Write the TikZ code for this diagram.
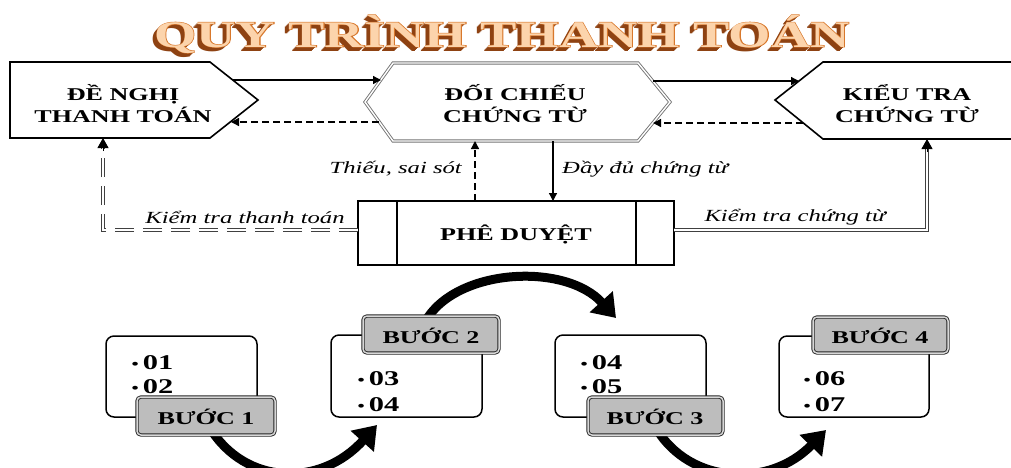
\documentclass[tikz,border=0pt]{standalone}
\usepackage{fontspec}
\setmainfont[FakeStretch=1.45]{Liberation Serif}
\newfontfamily\titleol[FakeStretch=1.45,FakeBold=2.5]{Liberation Serif}
\usetikzlibrary{arrows.meta}
\definecolor{tbrown}{HTML}{8E4212}
\definecolor{torange}{HTML}{D8782C}
\definecolor{tpeach}{HTML}{FCD4AC}
\definecolor{lblgray}{HTML}{BDBDBD}
\newcommand{\ttl}{QUY TRÌNH THANH TOÁN}
\newcommand{\shadowcopy}[1]{\rlap{\kern-#1pt\raisebox{-#1pt}{\color{tbrown}\ttl}}}
\begin{document}
\begin{tikzpicture}[x=1pt,y=-1pt,
  boxline/.style={line width=1.6pt},
  boxtext/.style={font=\fontsize{18}{22}\selectfont\bfseries, align=center, inner sep=0pt},
  lbl/.style={font=\fontsize{17}{20}\selectfont\itshape, inner sep=1pt},
  conn/.style={line width=1.3pt,-{Triangle[length=8pt,width=8pt]}},
  dconn/.style={conn,dash pattern=on 7pt off 4pt},
  dbl/.style={draw=black!75, double=white, line width=0.9pt, double distance=1.6pt},
  dbldash/.style={dbl, dash pattern=on 19pt off 9pt},
  tip/.style={line width=1pt,-{Triangle[length=10pt,width=11pt]}},
  stepbox/.style={draw, line width=1.5pt, rounded corners=8pt},
  steplbl/.style={draw=black!85, double=lblgray!60, line width=0.9pt, double distance=1.5pt, fill=lblgray, rounded corners=4pt},
  steptext/.style={font=\fontsize{18}{20}\selectfont\bfseries, inner sep=0pt},
  item/.style={font=\fontsize{21}{24}\selectfont\bfseries, inner sep=0pt, anchor=base west},
  bigarrow/.style={line width=9pt, -{Triangle[length=22pt,width=30pt]}},
  titletext/.style={font=\fontsize{37.5}{40}\selectfont\bfseries, inner sep=0pt, anchor=base}
]
\useasboundingbox (0,0) rectangle (1011,467);
\clip (0,0) rectangle (1011,467);

% ---------- title ----------
\node[titletext] (title) at (502,47) {\shadowcopy{4}\shadowcopy{3}\shadowcopy{2}\shadowcopy{1}\rlap{\color{torange}\titleol\ttl}{\color{tpeach}\ttl}};

% ---------- top shapes ----------
\draw[boxline] (10,62) -- (210,62) -- (258,100) -- (210,138) -- (10,138) -- cycle;
\node[boxtext] (dn) at (123,104) {ĐỀ NGHỊ\\THANH TOÁN};

\draw[draw=black!55, double=white, line width=0.9pt, double distance=1.4pt]
  (393,63) -- (638,63) -- (670,102) -- (638,141) -- (393,141) -- (365,102) -- cycle;
\node[boxtext] (dc) at (515,104) {ĐỐI CHIẾU\\CHỨNG TỪ};

\draw[boxline] (1015,62) -- (823,62) -- (775,100) -- (823,139) -- (1015,139);
\node[boxtext] (kt) at (907,104) {KIỂU TRA\\CHỨNG TỪ};

% ---------- approval ----------
\draw[boxline] (358,201) rectangle (674,265);
\draw[boxline] (397,201) -- (397,265);
\draw[boxline] (636,201) -- (636,265);
\node[boxtext] (pd) at (516,234) {PHÊ DUYỆT};

% ---------- connector points ----------
\coordinate (dnA) at (233,80);   \coordinate (dcA) at (381,80);
\coordinate (dcB) at (379,122);  \coordinate (dnB) at (231,122);
\coordinate (dcC) at (653,81);   \coordinate (ktC) at (799,81);
\coordinate (ktD) at (803,123);  \coordinate (dcD) at (653,123);
\coordinate (pdT1) at (475,201); \coordinate (dcT1) at (475,141);
\coordinate (dcT2) at (553,141); \coordinate (pdT2) at (553,201);
\coordinate (pdL) at (358,230);  \coordinate (cornL) at (103,230);
\coordinate (dnBot) at (103,138);
\coordinate (pdR) at (674,230);  \coordinate (cornR) at (927,230);
\coordinate (ktBot) at (927,139);

\draw[conn] (dnA) -- (dcA);
\draw[dconn] (dcB) -- (dnB);
\draw[conn] (dcC) -- (ktC);
\draw[dconn] (ktD) -- (dcD);
\draw[dconn] (pdT1) -- (dcT1);
\draw[conn] (dcT2) -- (pdT2);

\draw[dbldash] (pdL) -- (cornL) -- ([yshift=-10pt]dnBot);
\draw[tip] ([yshift=-13pt]dnBot) -- (dnBot);
\draw[dbl] (pdR) -- (cornR) -- ([yshift=-10pt]ktBot);
\draw[tip] ([yshift=-13pt]ktBot) -- (ktBot);

\node[lbl, anchor=east] (l1) at (463,169) {Thiếu, sai sót};
\node[lbl, anchor=west] (l2) at (561,169) {Đầy đủ chứng từ};
\node[lbl] (l3) at (245,217) {Kiểm tra thanh toán};
\node[lbl] (l4) at (795,217) {Kiểm tra chứng từ};

% ---------- bottom steps ----------
\draw[stepbox] (106,336) rectangle (257,417);
\draw[stepbox] (331,335) rectangle (482,417);
\draw[stepbox] (555,335) rectangle (706,417);
\draw[stepbox] (779,336) rectangle (929,417);

\node[item] (i1a) at (131,369) {{\fontsize{16}{16}\selectfont\mdseries\textbullet}\,01};
\node[item] (i1b) at (131,393) {{\fontsize{16}{16}\selectfont\mdseries\textbullet}\,02};
\node[item] (i2a) at (357,385) {{\fontsize{16}{16}\selectfont\mdseries\textbullet}\,03};
\node[item] (i2b) at (357,411) {{\fontsize{16}{16}\selectfont\mdseries\textbullet}\,04};
\node[item] (i3a) at (580,369) {{\fontsize{16}{16}\selectfont\mdseries\textbullet}\,04};
\node[item] (i3b) at (580,393) {{\fontsize{16}{16}\selectfont\mdseries\textbullet}\,05};
\node[item] (i4a) at (803,385) {{\fontsize{16}{16}\selectfont\mdseries\textbullet}\,06};
\node[item] (i4b) at (803,411) {{\fontsize{16}{16}\selectfont\mdseries\textbullet}\,07};

% curved arrows
\coordinate (a1s) at (210,428); \coordinate (a1e) at (377,425);
\coordinate (a2s) at (425,322); \coordinate (a2e) at (616,318);
\coordinate (a3s) at (656,428); \coordinate (a3e) at (826,430);
\draw[bigarrow] (a1s) .. controls (245,485) and (320,488) .. (a1e);
\draw[bigarrow] (a2s) .. controls (455,268) and (565,262) .. (a2e);
\draw[bigarrow] (a3s) .. controls (690,485) and (770,488) .. (a3e);

\draw[steplbl] (137,397) rectangle (275,435);
\node[steptext] (s1) at (206,417) {BƯỚC 1};
\draw[steplbl] (363,316) rectangle (499,353);
\node[steptext] (s2) at (431,336) {BƯỚC 2};
\draw[steplbl] (588,397) rectangle (723,435);
\node[steptext] (s3) at (655,417) {BƯỚC 3};
\draw[steplbl] (813,317) rectangle (948,353);
\node[steptext] (s4) at (880,336) {BƯỚC 4};
\end{tikzpicture}
\end{document}
